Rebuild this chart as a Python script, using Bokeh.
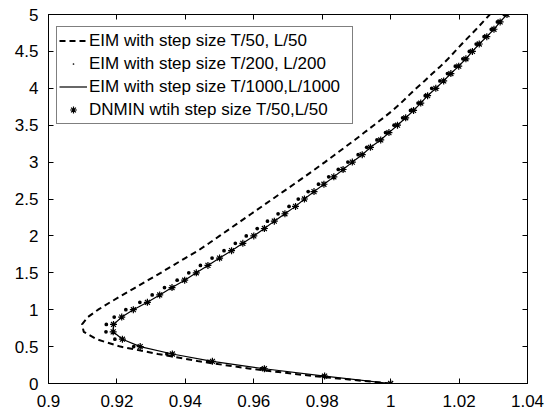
from bokeh.plotting import figure
from bokeh.models import Range1d, FixedTicker, LinearAxis, Legend, LegendItem, CustomJSTickFormatter
from bokeh.embed import file_html
from bokeh.resources import INLINE

# y positions (space levels, step L/50)
y_levels = [0.0, 0.1, 0.2, 0.3, 0.4, 0.5, 0.6, 0.7, 0.8, 0.9,
            1.0, 1.1, 1.2, 1.3, 1.4, 1.5, 1.6, 1.7, 1.8, 1.9,
            2.0, 2.1, 2.2, 2.3, 2.4, 2.5, 2.6, 2.7, 2.8, 2.9,
            3.0, 3.1, 3.2, 3.3, 3.4, 3.5, 3.6, 3.7, 3.8, 3.9,
            4.0, 4.1, 4.2, 4.3, 4.4, 4.5, 4.6, 4.7, 4.8, 4.9, 5.0]

# EIM with step size T/50, L/50 (dashed)
eim_50_x = [1.0000, 0.9775, 0.9590, 0.9440, 0.9320, 0.9210, 0.9140, 0.9103, 0.9098, 0.9115,
            0.9145, 0.9180, 0.9217, 0.9254, 0.9291, 0.9328, 0.9364, 0.9400, 0.9437, 0.9469,
            0.9500, 0.9531, 0.9562, 0.9593, 0.9624, 0.9655, 0.9686, 0.9717, 0.9748, 0.9778,
            0.9808, 0.9837, 0.9866, 0.9895, 0.9923, 0.9951, 0.9979, 1.0006, 1.0030, 1.0052,
            1.0075, 1.0099, 1.0122, 1.0146, 1.0168, 1.0188, 1.0208, 1.0229, 1.0250, 1.0270, 1.0290]

# EIM with step size T/200, L/200 (dots)
eim_200_x = [1.0000, 0.9802, 0.9622, 0.9466, 0.9346, 0.9249, 0.9194, 0.9168, 0.9169, 0.9192,
             0.9226, 0.9267, 0.9303, 0.9339, 0.9376, 0.9410, 0.9444, 0.9478, 0.9513, 0.9546,
             0.9578, 0.9610, 0.9640, 0.9671, 0.9703, 0.9730, 0.9759, 0.9789, 0.9819, 0.9847,
             0.9875, 0.9905, 0.9930, 0.9960, 0.9985, 1.0010, 1.0035, 1.0058, 1.0080, 1.0101,
             1.0120, 1.0144, 1.0166, 1.0189, 1.0211, 1.0230, 1.0250, 1.0273, 1.0294, 1.0312, 1.0332]

# EIM with step size T/1000, L/1000 (solid)
eim_1000_x = [1.0000, 0.9807, 0.9631, 0.9479, 0.9362, 0.9268, 0.9216, 0.9189, 0.9190, 0.9214,
              0.9248, 0.9289, 0.9325, 0.9361, 0.9398, 0.9432, 0.9466, 0.9500, 0.9535, 0.9568,
              0.9600, 0.9631, 0.9660, 0.9691, 0.9722, 0.9748, 0.9776, 0.9805, 0.9834, 0.9861,
              0.9888, 0.9917, 0.9941, 0.9971, 0.9995, 1.0020, 1.0044, 1.0067, 1.0088, 1.0108,
              1.0132, 1.0155, 1.0176, 1.0199, 1.0220, 1.0239, 1.0259, 1.0281, 1.0302, 1.0320, 1.0340]

# DNMIN with step size T/50, L/50 (asterisks)
dnmin_x = [1.0000, 0.9807, 0.9631, 0.9479, 0.9362, 0.9268, 0.9216, 0.9189, 0.9190, 0.9214,
           0.9248, 0.9289, 0.9325, 0.9361, 0.9398, 0.9432, 0.9466, 0.9500, 0.9535, 0.9568,
           0.9600, 0.9631, 0.9660, 0.9691, 0.9722, 0.9748, 0.9776, 0.9805, 0.9834, 0.9861,
           0.9888, 0.9917, 0.9941, 0.9971, 0.9995, 1.0020, 1.0044, 1.0067, 1.0088, 1.0108,
           1.0132, 1.0155, 1.0176, 1.0199, 1.0220, 1.0239, 1.0259, 1.0281, 1.0302, 1.0320, 1.0340]

x_ticks = [0.9, 0.92, 0.94, 0.96, 0.98, 1.0, 1.02, 1.04]
x_tick_labels = ["0.9", "0.92", "0.94", "0.96", "0.98", "1", "1.02", "1.04"]
y_ticks = [0, 0.5, 1, 1.5, 2, 2.5, 3, 3.5, 4, 4.5, 5]
y_tick_labels = ["0", "0.5", "1", "1.5", "2", "2.5", "3", "3.5", "4", "4.5", "5"]

legend_labels = ["EIM with step size T/50, L/50",
                 "EIM with step size T/200, L/200",
                 "EIM with step size T/1000,L/1000",
                 "DNMIN wtih step size T/50,L/50"]

FONT = "Liberation Sans"
FS = "17px"

p = figure(width=546, height=415, output_backend="svg", toolbar_location=None,
           x_range=Range1d(0.9, 1.04), y_range=Range1d(0, 5),
           min_border_left=48, min_border_right=19, min_border_top=14, min_border_bottom=32)
p.background_fill_color = "white"
p.border_fill_color = "white"
p.outline_line_color = "black"
p.outline_line_width = 1
p.grid.visible = False

r_dash = p.line(eim_50_x, y_levels, line_color="black", line_width=2, line_dash="6 4")
r_solid = p.line(eim_1000_x, y_levels, line_color="black", line_width=1.2)
r_dot = p.scatter(eim_200_x, y_levels, marker="dot", size=15,
                  fill_color="black", line_color="black")
r_star = p.scatter(dnmin_x, y_levels, marker="asterisk", size=7,
                   line_color="black", line_width=1.2)

def style_axis(ax, ticks, labels, show_labels, standoff):
    ax.ticker = FixedTicker(ticks=ticks)
    ax.major_tick_in = 5
    ax.major_tick_out = 0
    ax.minor_tick_in = 0
    ax.minor_tick_out = 0
    ax.axis_line_color = "black"
    ax.major_tick_line_color = "black"
    ax.major_label_text_font = FONT
    ax.major_label_text_font_size = FS
    ax.major_label_text_color = "black"
    ax.major_label_standoff = standoff
    if show_labels:
        ax.major_label_overrides = {t: l for t, l in zip(ticks, labels)}
    else:
        ax.formatter = CustomJSTickFormatter(code="return '';")

style_axis(p.xaxis[0], x_ticks, x_tick_labels, True, 11)
style_axis(p.yaxis[0], y_ticks, y_tick_labels, True, 10)

top_ax = LinearAxis()
style_axis(top_ax, x_ticks, x_tick_labels, False, 0)
p.add_layout(top_ax, "above")
right_ax = LinearAxis()
style_axis(right_ax, y_ticks, y_tick_labels, False, 0)
p.add_layout(right_ax, "right")

legend = Legend(items=[LegendItem(label=legend_labels[0], renderers=[r_dash]),
                       LegendItem(label=legend_labels[1], renderers=[r_dot]),
                       LegendItem(label=legend_labels[2], renderers=[r_solid]),
                       LegendItem(label=legend_labels[3], renderers=[r_star])],
                location=(8, 259))
legend.label_text_font = FONT
legend.label_text_font_size = FS
legend.label_text_color = "black"
legend.glyph_width = 28
legend.glyph_height = 17
legend.label_height = 23
legend.label_width = 261
legend.label_standoff = 2
legend.spacing = 0
legend.padding = 2
legend.margin = 0
legend.border_line_color = "black"
legend.border_line_width = 1
legend.background_fill_color = "white"
legend.background_fill_alpha = 1
p.add_layout(legend)

open("out.html", "w").write(file_html(p, INLINE))
